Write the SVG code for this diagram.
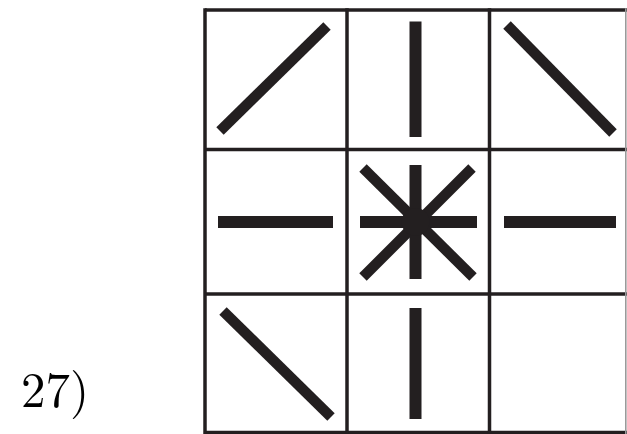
<svg xmlns="http://www.w3.org/2000/svg" width="627" height="434" viewBox="0 0 627 434">
<style>
.grid{fill:none;stroke:#231f20;stroke-width:3.5}
.bar{stroke:#231f20;stroke-width:12;stroke-linecap:butt}
.diag{stroke:#231f20;stroke-width:10.5;stroke-linecap:butt}
.lbl{font-family:"Latin Modern Roman","Liberation Serif",serif;font-size:49px;fill:#000}
</style>
<rect width="627" height="434" fill="#fff"/>
<g id="label"><text class="lbl" x="21" y="407">27)</text></g>
<g id="grid">
<line class="grid" x1="205" y1="10" x2="627" y2="10"/>
<line class="grid" x1="205" y1="149.5" x2="627" y2="149.5"/>
<line class="grid" x1="205" y1="294" x2="627" y2="294"/>
<line class="grid" x1="205" y1="432.5" x2="627" y2="432.5"/>
<line class="grid" x1="205" y1="8.3" x2="205" y2="434"/>
<line class="grid" x1="347" y1="8.3" x2="347" y2="434"/>
<line class="grid" x1="489.5" y1="8.3" x2="489.5" y2="434"/>
<line x1="625.8" y1="8.3" x2="625.8" y2="434" stroke="#9a9a9a" stroke-width="1.6"/>
</g>
<g id="c00"><line class="diag" x1="220" y1="131" x2="327" y2="26"/></g>
<g id="c01"><line class="bar" x1="415.5" y1="21.5" x2="415.5" y2="137"/></g>
<g id="c02"><line class="diag" x1="507" y1="25" x2="613" y2="133"/></g>
<g id="c10"><line class="bar" x1="218" y1="222" x2="333" y2="222"/></g>
<g id="c11">
<line class="bar" x1="415.5" y1="165" x2="415.5" y2="279"/>
<line class="bar" x1="360" y1="222" x2="477" y2="222"/>
<line class="diag" x1="363" y1="168" x2="473" y2="277"/>
<line class="diag" x1="472" y1="168" x2="363" y2="277"/>
<circle cx="415.5" cy="222" r="14" fill="#231f20"/>
</g>
<g id="c12"><line class="bar" x1="504" y1="222" x2="616" y2="222"/></g>
<g id="c20"><line class="diag" x1="223" y1="311" x2="331" y2="417"/></g>
<g id="c21"><line class="bar" x1="415.5" y1="308" x2="415.5" y2="419"/></g>
<g id="c22"/>
</svg>
